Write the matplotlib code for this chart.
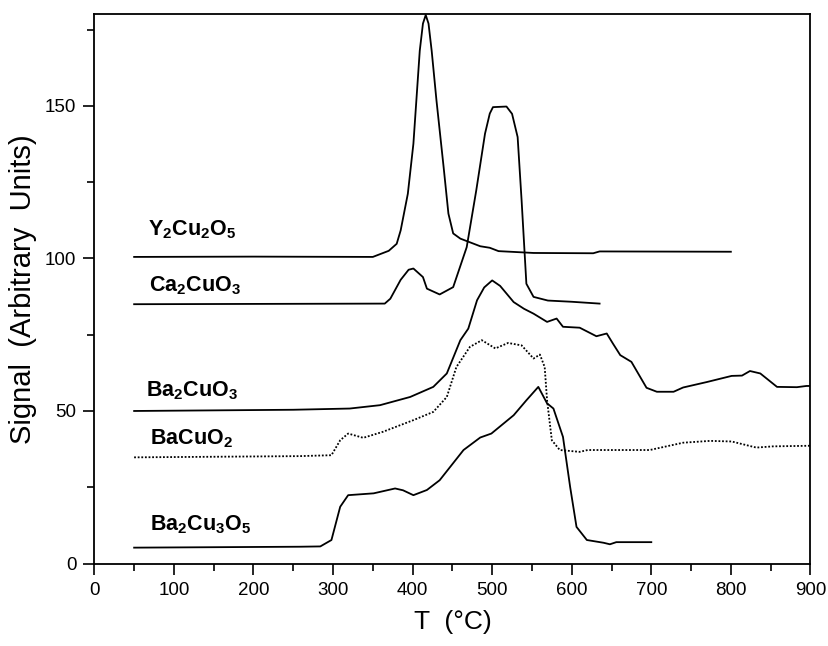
import numpy as np
import matplotlib
matplotlib.use('Agg')
import matplotlib.pyplot as plt

plt.rcParams['font.family'] = ['Liberation Sans', 'DejaVu Sans']
plt.rcParams['mathtext.fontset'] = 'custom'
plt.rcParams['mathtext.rm'] = 'Liberation Sans'
plt.rcParams['mathtext.bf'] = 'Liberation Sans:bold'

# Y2Cu2O5
y2_T = [50, 200, 350, 370, 380, 385, 394, 401, 409, 413, 416.5, 420, 424, 430, 439, 445,
        451, 460, 485, 497, 508, 552, 627, 635, 800]
y2_S = [100.5, 100.6, 100.5, 102.5, 104.8, 109.2, 121.2, 137.6, 168.1, 177, 179.8, 177,
        168, 151.8, 129.9, 114.7, 108.2, 106.5, 104, 103.5, 102.4, 101.8, 101.7, 102.3, 102.2]

# Ca2CuO3
ca_T = [50, 365, 372, 385, 395, 401, 413, 418, 434, 451, 468, 480, 491, 497, 501, 518,
        525, 532, 537, 543, 552, 570, 600, 635]
ca_S = [85, 85.2, 86.8, 93, 96.3, 96.7, 93.9, 90.1, 88.2, 90.6, 103.7, 122.3, 140.9,
        147.5, 149.6, 149.8, 147.4, 139.8, 119, 91.7, 87.4, 86.2, 85.8, 85.2]

# Ba2CuO3
ba_T = [50, 250, 321, 359, 397, 426, 443, 460, 470, 481, 490, 500, 510, 527, 540, 552,
        569, 581, 589, 610, 631, 644, 652, 661, 675, 694, 707, 728, 740, 770, 801, 814,
        824, 837, 858, 883, 895, 900]
ba_S = [50, 50.4, 50.8, 51.9, 54.6, 57.9, 62.3, 73.2, 77, 86.3, 90.5, 92.8, 91, 85.7,
        83.5, 81.9, 79.2, 80.3, 77.6, 77.3, 74.5, 75.4, 72, 68.3, 66.1, 57.6, 56.3, 56.3,
        57.7, 59.5, 61.5, 61.6, 63.1, 62.3, 57.9, 57.8, 58.2, 58.2]

# BaCuO2 (dotted)
bc_T = [50, 258, 298, 309, 319, 338, 363, 401, 426, 443, 455, 472, 487, 504, 520, 537,
        552, 560, 566, 569, 575, 585, 610, 620, 698, 740, 774, 801, 832, 853, 900]
bc_S = [34.8, 35.2, 35.5, 40.4, 42.6, 41.2, 43.2, 47, 49.7, 54.6, 64.4, 71, 73.2, 70.5,
        72.3, 71.5, 67.2, 68.5, 64.4, 53.5, 40.4, 37.2, 36.6, 37.2, 37.2, 39.6, 40.2, 40,
        38, 38.4, 38.6]

# Ba2Cu3O5
b3_T = [50, 258, 284, 298, 309, 319, 351, 378, 388, 401, 418, 434, 464, 485, 499, 527,
        543, 558, 569, 577, 589, 598, 606, 619, 640, 648, 656, 700]
b3_S = [5.2, 5.5, 5.6, 7.7, 18.6, 22.4, 23, 24.6, 24, 22.4, 24.1, 27.3, 37.2, 41.3,
        42.6, 48.6, 53.5, 57.9, 52.5, 50.8, 41.5, 25.1, 12, 7.7, 6.8, 6.3, 7, 7]

names = [r'$\mathbf{Y}_\mathbf{2}\mathbf{Cu}_\mathbf{2}\mathbf{O}_\mathbf{5}$',
         r'$\mathbf{Ca}_\mathbf{2}\mathbf{CuO}_\mathbf{3}$',
         r'$\mathbf{Ba}_\mathbf{2}\mathbf{CuO}_\mathbf{3}$',
         r'$\mathbf{BaCuO}_\mathbf{2}$',
         r'$\mathbf{Ba}_\mathbf{2}\mathbf{Cu}_\mathbf{3}\mathbf{O}_\mathbf{5}$']
label_T = [68, 69, 65, 70, 70]
label_S = [109.5, 91.2, 56.8, 41, 12.6]

fig = plt.figure(figsize=(8.29, 6.46), dpi=100)
ax = fig.add_axes([0.1138, 0.1277, 0.8638, 0.85])

# curves
ax.plot(y2_T, y2_S, color='black', lw=1.3)
ax.plot(ca_T, ca_S, color='black', lw=1.3)
ax.plot(ba_T, ba_S, color='black', lw=1.3)
ax.plot(bc_T, bc_S, color='black', lw=1.3, ls=(0, (1, 1)))
ax.plot(b3_T, b3_S, color='black', lw=1.3)

# labels for each compound
for n, tx, sy in zip(names, label_T, label_S):
    ax.text(tx, sy, n, fontsize=15.5, va='center', ha='left')

ax.set_xlim(0, 900)
ax.set_ylim(0, 180)
ax.set_xticks(np.arange(0, 901, 100))
ax.set_xticks(np.arange(50, 900, 100), minor=True)
ax.set_yticks([0, 50, 100, 150])
ax.set_yticks([25, 75, 125, 175], minor=True)
ax.tick_params(which='major', direction='out', length=8, width=1.2, labelsize=13.5, pad=5)
ax.tick_params(which='minor', direction='out', length=5, width=1.2)
for s in ax.spines.values():
    s.set_linewidth(1.3)

ax.set_xlabel('T  (°C)', fontsize=19, labelpad=8)
ax.set_ylabel('Signal  (Arbitrary  Units)', fontsize=21, labelpad=6)

plt.savefig('out.png', dpi=100)
